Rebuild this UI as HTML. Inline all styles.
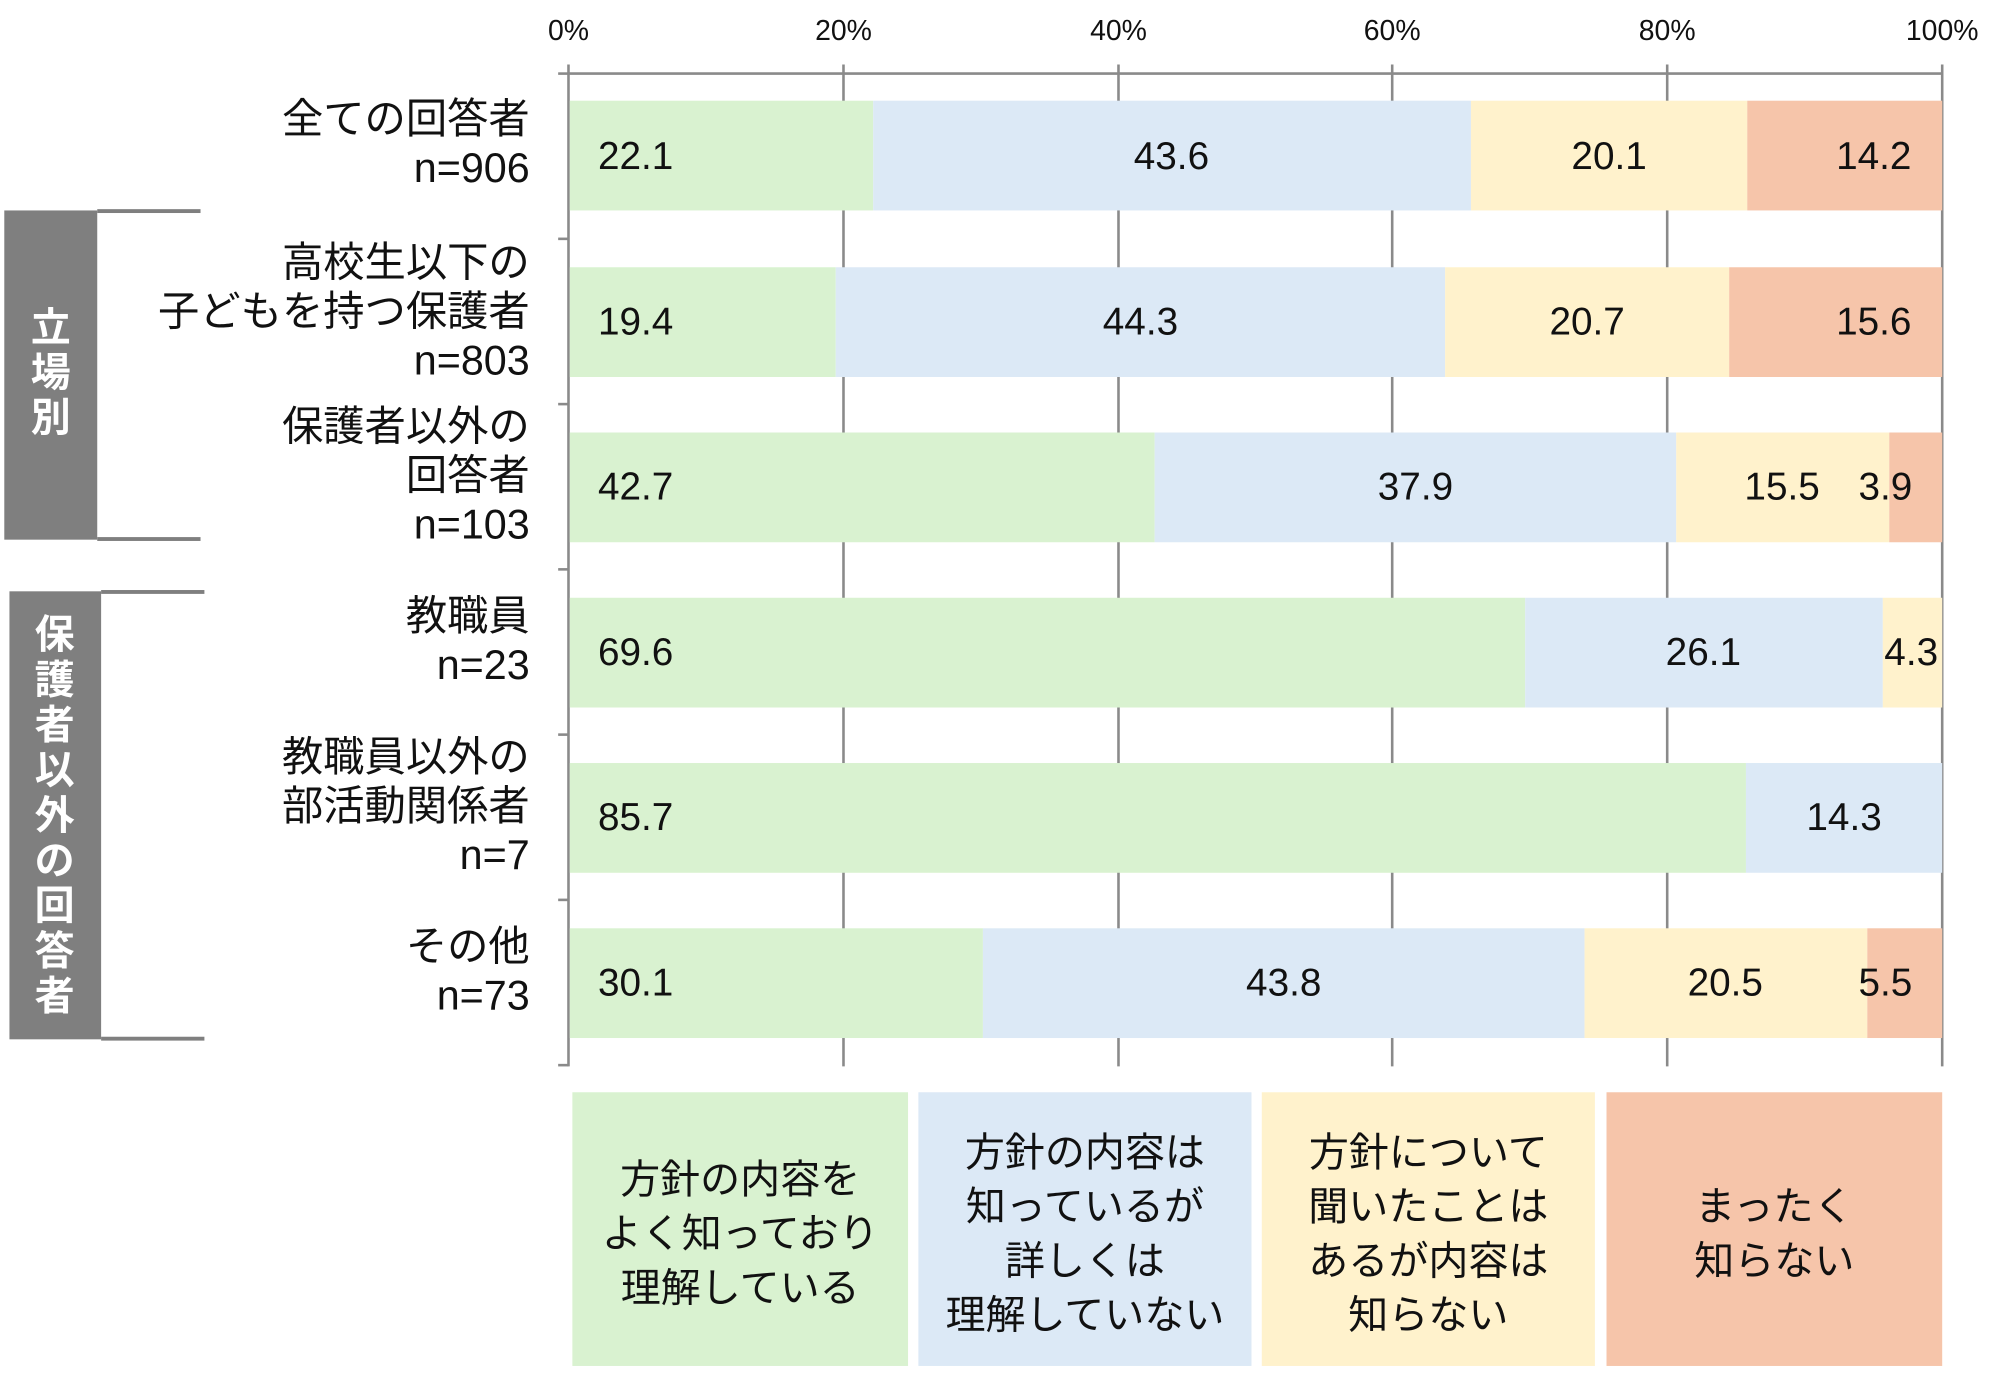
<!DOCTYPE html>
<html><head><meta charset="utf-8"><style>
html,body{margin:0;padding:0;background:#fff;}
svg{display:block;}
text{font-family:"Liberation Sans","Noto Sans CJK JP",sans-serif;fill:#111;}
</style></head><body>
<svg width="2002" height="1375" viewBox="0 0 1550 1065" xmlns="http://www.w3.org/2000/svg">
<g font-size="22" text-anchor="middle">
<text x="440" y="31">0%</text><text x="653" y="31">20%</text><text x="866" y="31">40%</text><text x="1078" y="31">60%</text><text x="1291" y="31">80%</text><text x="1504" y="31">100%</text>
</g>
<g stroke="#8a8a8a" stroke-width="2">
<line x1="440" y1="57" x2="1504" y2="57"/>
<line x1="440" y1="50" x2="440" y2="826"/>
<line x1="653" y1="50" x2="653" y2="826"/>
<line x1="866" y1="50" x2="866" y2="826"/>
<line x1="1078" y1="50" x2="1078" y2="826"/>
<line x1="1291" y1="50" x2="1291" y2="826"/>
<line x1="1504" y1="50" x2="1504" y2="826"/>
<line x1="432" y1="57" x2="440" y2="57"/><line x1="432" y1="185" x2="440" y2="185"/><line x1="432" y1="313" x2="440" y2="313"/><line x1="432" y1="441" x2="440" y2="441"/><line x1="432" y1="569" x2="440" y2="569"/><line x1="432" y1="697" x2="440" y2="697"/><line x1="432" y1="825" x2="440" y2="825"/>
</g>
<g>
<rect x="441" y="78" width="235" height="85" fill="#d9f2d0"/><rect x="676" y="78" width="463" height="85" fill="#dce9f6"/><rect x="1139" y="78" width="214" height="85" fill="#fff2cc"/><rect x="1353" y="78" width="151" height="85" fill="#f6c5aa"/>
<rect x="441" y="207" width="206" height="85" fill="#d9f2d0"/><rect x="647" y="207" width="472" height="85" fill="#dce9f6"/><rect x="1119" y="207" width="220" height="85" fill="#fff2cc"/><rect x="1339" y="207" width="165" height="85" fill="#f6c5aa"/>
<rect x="441" y="335" width="453" height="85" fill="#d9f2d0"/><rect x="894" y="335" width="404" height="85" fill="#dce9f6"/><rect x="1298" y="335" width="165" height="85" fill="#fff2cc"/><rect x="1463" y="335" width="41" height="85" fill="#f6c5aa"/>
<rect x="441" y="463" width="740" height="85" fill="#d9f2d0"/><rect x="1181" y="463" width="277" height="85" fill="#dce9f6"/><rect x="1458" y="463" width="46" height="85" fill="#fff2cc"/>
<rect x="441" y="591" width="911" height="85" fill="#d9f2d0"/><rect x="1352" y="591" width="152" height="85" fill="#dce9f6"/>
<rect x="441" y="719" width="320" height="85" fill="#d9f2d0"/><rect x="761" y="719" width="466" height="85" fill="#dce9f6"/><rect x="1227" y="719" width="219" height="85" fill="#fff2cc"/><rect x="1446" y="719" width="58" height="85" fill="#f6c5aa"/>
</g>
<g font-size="30" text-anchor="middle">
<text x="492" y="131">22.1</text><text x="907" y="131">43.6</text><text x="1246" y="131">20.1</text><text x="1451" y="131">14.2</text>
<text x="492" y="259">19.4</text><text x="883" y="259">44.3</text><text x="1229" y="259">20.7</text><text x="1451" y="259">15.6</text>
<text x="492" y="387">42.7</text><text x="1096" y="387">37.9</text><text x="1380" y="387">15.5</text><text x="1460" y="387">3.9</text>
<text x="492" y="515">69.6</text><text x="1319" y="515">26.1</text><text x="1480" y="515">4.3</text>
<text x="492" y="643">85.7</text><text x="1428" y="643">14.3</text>
<text x="492" y="771">30.1</text><text x="994" y="771">43.8</text><text x="1336" y="771">20.5</text><text x="1460" y="771">5.5</text>
</g>
<g font-size="32" text-anchor="end">
<text x="410" y="103">全ての回答者</text><text x="410" y="141">n=906</text>
<text x="410" y="214">高校生以下の</text><text x="410" y="252">子どもを持つ保護者</text><text x="410" y="290">n=803</text>
<text x="410" y="341">保護者以外の</text><text x="410" y="379">回答者</text><text x="410" y="417">n=103</text>
<text x="410" y="488">教職員</text><text x="410" y="526">n=23</text>
<text x="410" y="597">教職員以外の</text><text x="410" y="635">部活動関係者</text><text x="410" y="673">n=7</text>
<text x="410" y="744">その他</text><text x="410" y="782">n=73</text>
</g>
<rect x="3" y="163" width="72" height="255" fill="#7f7f7f"/>
<rect x="75" y="162" width="80" height="3" fill="#7f7f7f"/><rect x="75" y="416" width="80" height="3" fill="#7f7f7f"/>
<rect x="7" y="458" width="71" height="347" fill="#7f7f7f"/>
<rect x="78" y="457" width="80" height="3" fill="#7f7f7f"/><rect x="78" y="803" width="80" height="3" fill="#7f7f7f"/>
<g font-size="31" font-weight="bold" text-anchor="middle">
<text x="39" y="264" style="fill:#fff">立</text><text x="39" y="299" style="fill:#fff">場</text><text x="39" y="334" style="fill:#fff">別</text>
<text x="42" y="502" style="fill:#fff">保</text><text x="42" y="537" style="fill:#fff">護</text><text x="42" y="572" style="fill:#fff">者</text><text x="42" y="607" style="fill:#fff">以</text><text x="42" y="642" style="fill:#fff">外</text><text x="42" y="677" style="fill:#fff">の</text><text x="42" y="712" style="fill:#fff">回</text><text x="42" y="747" style="fill:#fff">答</text><text x="42" y="782" style="fill:#fff">者</text>
</g>
<rect x="443" y="846" width="260" height="212" fill="#d9f2d0"/>
<rect x="711" y="846" width="258" height="212" fill="#dce9f6"/>
<rect x="977" y="846" width="258" height="212" fill="#fff2cc"/>
<rect x="1244" y="846" width="260" height="212" fill="#f6c5aa"/>
<g font-size="31" text-anchor="middle">
<text x="573" y="924">方針の内容を</text><text x="573" y="966">よく知っており</text><text x="573" y="1008">理解している</text>
<text x="840" y="903">方針の内容は</text><text x="840" y="945">知っているが</text><text x="840" y="987">詳しくは</text><text x="840" y="1029">理解していない</text>
<text x="1106" y="903">方針について</text><text x="1106" y="945">聞いたことは</text><text x="1106" y="987">あるが内容は</text><text x="1106" y="1029">知らない</text>
<text x="1374" y="945">まったく</text><text x="1374" y="987">知らない</text>
</g>
</svg>
</body></html>
